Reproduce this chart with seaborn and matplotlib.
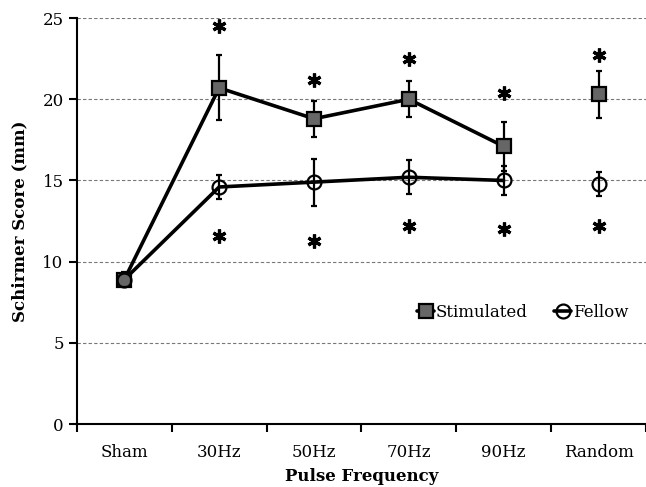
import numpy as np
import pandas as pd
import matplotlib
matplotlib.use("Agg")
import matplotlib.pyplot as plt
import seaborn as sns

# values
categories = ["Sham", "30Hz", "50Hz", "70Hz", "90Hz", "Random"]
stimulated = [8.9, 20.7, 18.8, 20.0, 17.1, 20.3]
stimulated_err = [0.45, 2.0, 1.1, 1.1, 1.5, 1.45]
fellow = [8.9, 14.6, 14.9, 15.2, 15.0, 14.8]
fellow_err = [0.35, 0.75, 1.45, 1.05, 0.9, 0.75]
star_top = [np.nan, 24.5, 21.2, 22.5, 20.4, 22.7]
star_bottom = [np.nan, 11.6, 11.3, 12.2, 12.0, 12.2]

sns.set_theme(style="white")
plt.rcParams["font.family"] = ["DejaVu Serif"]
for k in ["text.color", "axes.labelcolor", "xtick.color", "ytick.color"]:
    plt.rcParams[k] = "black"

fig = plt.figure(figsize=(6.46, 4.87), dpi=100)
ax = fig.add_axes([0.119, 0.129, 0.881, 0.834])

x = np.arange(len(categories))
n_line = 5  # Random is not connected

df = pd.DataFrame({
    "x": np.concatenate([x[:n_line], x[:n_line]]),
    "score": stimulated[:n_line] + fellow[:n_line],
    "group": ["Stimulated"] * n_line + ["Fellow"] * n_line,
})

# error bars first so markers sit on top
ax.errorbar(x, stimulated, yerr=stimulated_err, fmt="none", ecolor="black",
            elinewidth=1.6, capsize=2.5, capthick=1.6, zorder=2)
ax.errorbar(x, fellow, yerr=fellow_err, fmt="none", ecolor="black",
            elinewidth=1.6, capsize=2.5, capthick=1.6, zorder=2)

sns.lineplot(data=df, x="x", y="score", hue="group",
             palette={"Stimulated": "black", "Fellow": "black"},
             linewidth=2.6, legend=False, ax=ax, zorder=3)

# markers
ax.plot(x, stimulated, linestyle="none", marker="s", markersize=9.5,
        markerfacecolor="#666666", markeredgecolor="black", markeredgewidth=1.6, zorder=4)
ax.plot(x, fellow, linestyle="none", marker="o", markersize=10,
        markerfacecolor="none", markeredgecolor="black", markeredgewidth=1.6, zorder=5)

# significance asterisks
ax.plot(x, star_top, linestyle="none", marker=(6, 2, 0), markersize=10,
        markeredgewidth=2.3, color="black")
ax.plot(x, star_bottom, linestyle="none", marker=(6, 2, 0), markersize=10,
        markeredgewidth=2.3, color="black")

# legend
h1, = ax.plot([], [], color="black", linewidth=2.6, marker="s", markersize=9.5,
              markerfacecolor="#666666", markeredgecolor="black", markeredgewidth=1.6)
h2, = ax.plot([], [], color="black", linewidth=2.6, marker="o", markersize=10,
              markerfacecolor="none", markeredgecolor="black", markeredgewidth=1.6)
ax.legend([h1, h2], ["Stimulated", "Fellow"], loc="center right", bbox_to_anchor=(0.995, 0.275),
          ncol=2, frameon=False, fontsize=12, handlelength=1.0, handletextpad=0.1,
          columnspacing=1.6)

ax.set_xlim(-0.5, len(categories) - 0.5)
ax.set_ylim(0, 25)
ax.set_yticks([0, 5, 10, 15, 20, 25])
ax.set_xticks(x)
ax.set_xticklabels(categories)
ax.set_xticks(np.arange(-0.5, len(categories)), minor=True)
ax.tick_params(axis="x", which="major", length=0, labelsize=12, pad=14)
ax.tick_params(axis="x", which="minor", length=6, width=1.5, direction="out", bottom=True)
ax.tick_params(axis="y", which="major", length=6, width=1.5, direction="out", left=True, labelsize=12)

ax.yaxis.grid(True, linestyle=(0, (3, 2)), color="#777777", linewidth=0.8)
ax.xaxis.grid(False)
ax.set_axisbelow(True)

for s in ["top", "right"]:
    ax.spines[s].set_visible(False)
for s in ["left", "bottom"]:
    ax.spines[s].set_color("black")
    ax.spines[s].set_linewidth(1.5)

ax.set_xlabel("Pulse Frequency", fontsize=12, fontweight="bold", labelpad=5)
ax.set_ylabel("Schirmer Score (mm)", fontsize=12, fontweight="bold", labelpad=10)

fig.savefig("out.png", dpi=100)
